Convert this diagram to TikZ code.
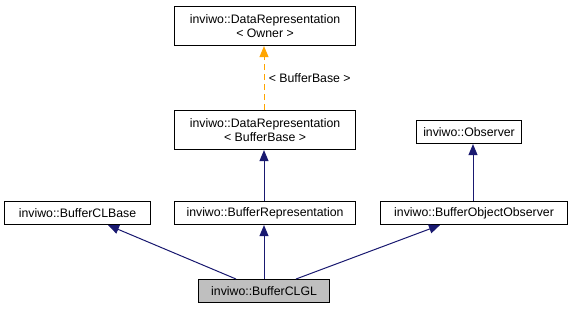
\documentclass[tikz,border=0pt]{standalone}
\usepackage{fontspec}
\setmainfont{Liberation Sans}
\usetikzlibrary{arrows.meta}
\definecolor{edgeblue}{RGB}{25,25,112}
\definecolor{edgeorange}{RGB}{255,165,0}
\definecolor{hilite}{RGB}{191,191,191}
\begin{document}
\begin{tikzpicture}[x=1pt,y=-1pt,
  lbl/.style={font=\fontsize{12.3}{14}\selectfont},
  cls/.style={draw=black,line width=1.1pt,fill=white,lbl,
    align=center,inner sep=0pt,anchor=north west},
  inh/.style={draw=edgeblue,line width=1pt,-{Triangle[length=11pt,width=9pt]}},
  tmpl/.style={draw=edgeorange,line width=1pt,dash pattern=on 6pt off 4pt,
    -{Triangle[length=11pt,width=9pt]}}]
\useasboundingbox (0,0) rectangle (573,308);
% class boxes
\node[cls,minimum width=181pt,minimum height=39pt] (owner) at (174,6)
  {inviwo::DataRepresentation\\< Owner >};
\node[cls,minimum width=181pt,minimum height=39pt] (drbase) at (174,110)
  {inviwo::DataRepresentation\\< BufferBase >};
\node[cls,minimum width=105pt,minimum height=23pt] (obs) at (416,120) {inviwo::Observer};
\node[cls,minimum width=146pt,minimum height=23pt] (clbase) at (4,201) {inviwo::BufferCLBase};
\node[cls,minimum width=181pt,minimum height=23pt] (brep) at (174,201) {inviwo::BufferRepresentation};
\node[cls,minimum width=187pt,minimum height=23pt] (boo) at (380,201) {inviwo::BufferObjectObserver};
\node[cls,fill=hilite,minimum width=131pt,minimum height=23pt] (clgl) at (198,279) {inviwo::BufferCLGL};
% inheritance edges
\draw[inh] (clgl.north -| 236,0) -- (clbase.south -| 108,0);
\draw[inh] (clgl.north -| 264,0) -- (brep.south -| 264,0);
\draw[inh] (clgl.north -| 296,0) -- (boo.south -| 440,0);
\draw[inh] (brep.north -| 264,0) -- (drbase.south -| 264,0);
\draw[inh] (boo.north -| 473,0) -- (obs.south -| 473,0);
% template instantiation
\draw[tmpl] (drbase.north -| 264,0) -- node[right=1pt,lbl] (tlabel) {< BufferBase >} (owner.south -| 264,0);
\end{tikzpicture}
\end{document}
